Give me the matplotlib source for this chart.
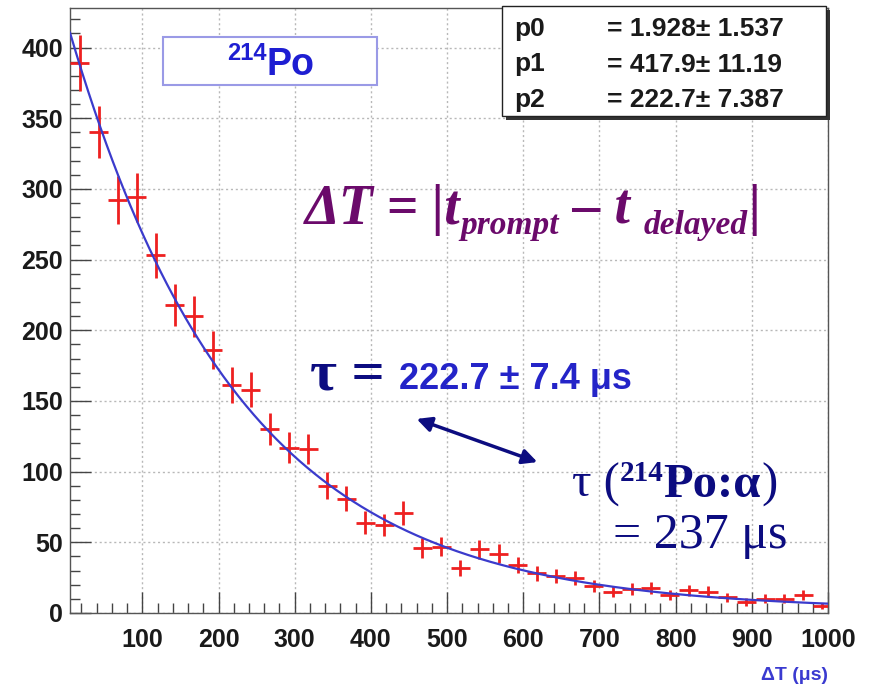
import numpy as np
import matplotlib.pyplot as plt
from matplotlib.patches import Rectangle, FancyArrowPatch

# Po-214 delayed-coincidence time spectrum, 25 us bins
bin_centers = [17.5 + 25 * k for k in range(40)]
counts = [389, 340, 292, 294, 253, 218, 210, 186, 161, 158,
          130, 117, 116, 90, 81, 64, 62, 71, 46, 47,
          32, 45, 42, 34, 28, 26, 25, 19, 15, 17,
          18, 13, 16, 15, 11, 8, 10, 10, 13, 5]
bin_half_width = 12.5

# fit: p0 + p1 * exp(-t / p2)
p0, p0_err = 1.928, 1.537
p1, p1_err = 417.9, 11.19
p2, p2_err = 222.7, 7.387

W, H = 878, 688


def fpos(x, y):
    return x / W, 1 - y / H


fig = plt.figure(figsize=(W / 100, H / 100), dpi=100)
ax = fig.add_axes([70 / W, (H - 613) / H, (828 - 70) / W, (613 - 8) / H])

counts = np.array(counts, dtype=float)
ax.errorbar(bin_centers, counts, yerr=np.sqrt(counts), xerr=bin_half_width,
            fmt="none", ecolor="#ee2020", elinewidth=2.0, capsize=0, zorder=3)

t = np.linspace(5, 1000, 500)
ax.plot(t, p0 + p1 * np.exp(-t / p2), color="#3b3bcc", lw=1.6, zorder=4)

ax.set_xlim(5, 1000)
ax.set_ylim(0, 428)
ax.set_xticks(np.arange(100, 1001, 100))
ax.set_xticks(np.arange(20, 1001, 20), minor=True)
ax.set_yticks(np.arange(0, 401, 50))
ax.set_yticks(np.arange(0, 421, 10), minor=True)
ax.grid(True, which="major", color="#b8b8b8", ls=(0, (1.5, 2)), lw=1.0)
ax.tick_params(which="both", direction="in", color="#444444", width=1.0,
               top=False, right=False)
ax.tick_params(which="major", length=15)
ax.tick_params(which="minor", length=7)
ax.tick_params(axis="x", pad=11)
ax.tick_params(axis="y", pad=5)
for lab in ax.get_xticklabels() + ax.get_yticklabels():
    lab.set_fontfamily("Liberation Sans")
    lab.set_fontweight("bold")
    lab.set_fontsize(18)
    lab.set_color("#1a1a1a")
for s in ax.spines.values():
    s.set_color("#555555")
    s.set_linewidth(1.0)

fig.text(*fpos(828, 680), "\u0394T (\u03bcs)", ha="right", va="baseline",
         family="Liberation Sans", weight="bold", fontsize=14, color="#3a3ad0")

renderer = fig.canvas.get_renderer()


def chain(x, y, pieces):
    # lay text pieces left to right, each starting where the last one ended
    for s, dy, kw in pieces:
        txt = fig.text(*fpos(x, y + dy), s, va="baseline", **kw)
        x = txt.get_window_extent(renderer).x1
    return x


# isotope label box
fig.patches.append(Rectangle(fpos(163, 85), (377 - 163) / W, (85 - 37) / H,
                             transform=fig.transFigure, fc="white",
                             ec="#9a9ae6", lw=1.5, zorder=5))
sans_b = dict(family="Liberation Sans", weight="bold", color="#1e1ed2", zorder=6)
chain(227, 75, [("214", -15, dict(fontsize=17, **sans_b)),
                ("Po", 0, dict(fontsize=27, **sans_b))])

# fit parameter box with shadow
fig.patches.append(Rectangle(fpos(506, 120), (830 - 506) / W, (120 - 10) / H,
                             transform=fig.transFigure, fc="#333333",
                             ec="none", zorder=5))
fig.patches.append(Rectangle(fpos(502, 116), (826 - 502) / W, (116 - 6) / H,
                             transform=fig.transFigure, fc="white",
                             ec="#222222", lw=1.0, zorder=6))
stat = dict(family="Liberation Sans", weight="bold", fontsize=19,
            color="#1a1a1a", zorder=7)
params = [("p0", p0, p0_err), ("p1", p1, p1_err), ("p2", p2, p2_err)]
for i, (name, val, err) in enumerate(params):
    yb = 36 + 35.5 * i
    fig.text(*fpos(514, yb), name, va="baseline", **stat)
    fig.text(*fpos(607, yb), f"= {val:.4g}\u00b1 {err:.4g}", va="baseline", **stat)

# time difference definition
purple = dict(family="Liberation Serif", weight="bold", style="italic",
              color="#6b0a6b")
chain(305, 224, [("\u0394T = |t", 0, dict(fontsize=40, **purple)),
                 ("prompt", 10, dict(fontsize=24, **purple)),
                 (" \u2013 t ", 0, dict(fontsize=40, **purple)),
                 ("delayed", 10, dict(fontsize=24, **purple)),
                 ("|", 0, dict(fontsize=40, **purple))])

# fitted lifetime
navy = "#0c0c80"
chain(310, 390, [("\u03c4 = ", 0, dict(family="Liberation Serif", weight="bold",
                                        fontsize=42, color=navy)),
                 ("222.7 \u00b1 7.4 \u03bcs", -1,
                  dict(family="Liberation Sans", weight="bold", fontsize=26,
                       color="#2424c8"))])

# literature lifetime
serif = dict(family="Liberation Serif", color=navy)
chain(572, 497, [("\u03c4 (", 0, dict(fontsize=35, **serif)),
                 ("214", -16, dict(fontsize=21, weight="bold", **serif)),
                 ("Po:\u03b1", 0, dict(fontsize=35, weight="bold", **serif)),
                 (")", 0, dict(fontsize=35, **serif))])
fig.text(*fpos(787, 548), "= 237 \u03bcs", ha="right", va="baseline",
         fontsize=36, **serif)

arrow = FancyArrowPatch(fpos(414, 418), fpos(540, 463), transform=fig.transFigure,
                        arrowstyle="<|-|>", mutation_scale=22, color=navy, lw=2.5)
fig.patches.append(arrow)

fig.savefig("out.png", dpi=100)
